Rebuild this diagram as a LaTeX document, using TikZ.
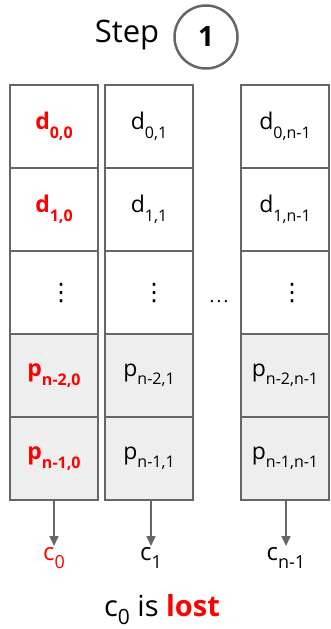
\documentclass[tikz,border=0pt]{standalone}
\usepackage{fontspec}
\setmainfont{Open Sans}
\newfontfamily\symfont{DejaVu Sans}
\usetikzlibrary{arrows.meta}
\definecolor{edge}{HTML}{666666}
\definecolor{pfill}{HTML}{EEEEEE}
\definecolor{hot}{HTML}{FF0000}
\newcommand{\sbx}[1]{\raisebox{-8.5pt}{\fontsize{16}{16}\selectfont #1}}
\newcommand{\sbc}[1]{\raisebox{-8pt}{\fontsize{18}{18}\selectfont #1}}
\begin{document}
\begin{tikzpicture}[x=1pt,y=-1pt,
  cell/.style={draw=edge, line width=2pt, minimum width=88pt, minimum height=83pt, inner sep=0pt, font=\fontsize{23}{25}\selectfont},
  pcell/.style={cell, fill=pfill},
  hotcell/.style={text=hot, font=\fontsize{23}{25}\selectfont\bfseries},
  dots/.style={inner sep=0pt, font=\fontsize{24}{24}\symfont},
  lbl/.style={inner sep=1pt, anchor=north, font=\fontsize{24}{26}\selectfont},
  arr/.style={draw=edge, line width=1.5pt, -{Triangle[width=9pt,length=10pt]}}]
\useasboundingbox (0,0) rectangle (330,629);
% title
\node[font=\fontsize{31}{34}\selectfont] (step) at (127,35) {Step};
\node[draw=edge, line width=2.5pt, circle, minimum size=63pt, inner sep=0pt, font=\fontsize{28}{30}\selectfont\bfseries] (num) at (206,37) {1};
% column 0
\node[cell, hotcell] (a0) at (54,126.5) {d\sbx{0,0}};
\node[cell, hotcell] (a1) at (54,209.5) {d\sbx{1,0}};
\node[cell] (a2) at (54,292.5) {};
\node[pcell, hotcell] (a3) at (54,375.5) {p\sbx{n-2,0}};
\node[pcell, hotcell] (a4) at (54,458.5) {p\sbx{n-1,0}};
% column 1
\node[cell] (b0) at (149,126.5) {d\sbx{0,1}};
\node[cell] (b1) at (149,209.5) {d\sbx{1,1}};
\node[cell] (b2) at (149,292.5) {};
\node[pcell] (b3) at (149,375.5) {p\sbx{n-2,1}};
\node[pcell] (b4) at (149,458.5) {p\sbx{n-1,1}};
% column n-1
\node[cell] (e0) at (285,126.5) {d\sbx{0,n-1}};
\node[cell] (e1) at (285,209.5) {d\sbx{1,n-1}};
\node[cell] (e2) at (285,292.5) {};
\node[pcell] (e3) at (285,375.5) {p\sbx{n-2,n-1}};
\node[pcell] (e4) at (285,458.5) {p\sbx{n-1,n-1}};
% vertical dots
\node[dots] (v0) at (61,293) {⋮};
\node[dots] (v1) at (154,293) {⋮};
\node[dots] (v2) at (292,293) {⋮};
% gap dots
\node[inner sep=0pt, anchor=base, font=\fontsize{18}{18}\selectfont] (gap) at (219,302) {.\kern2.2pt.\kern2.2pt.};
% outputs
\node[lbl, text=hot] (c0) at (54,546) {c\sbc{0}};
\node[lbl] (c1) at (151,546) {c\sbc{1}};
\node[lbl] (cn) at (286,546) {c\sbc{n-1}};
\draw[arr] (a4.south) -- (c0.north);
\draw[arr] (b4.south -| c1.north) -- (c1.north);
\draw[arr] (e4.south -| cn.north) -- (cn.north);
% caption
\node[font=\fontsize{29}{31}\selectfont, anchor=base] (cap) at (162,616) {c\raisebox{-8pt}{\fontsize{21}{21}\selectfont 0} is \textcolor{hot}{\bfseries lost}};
\end{tikzpicture}
\end{document}
